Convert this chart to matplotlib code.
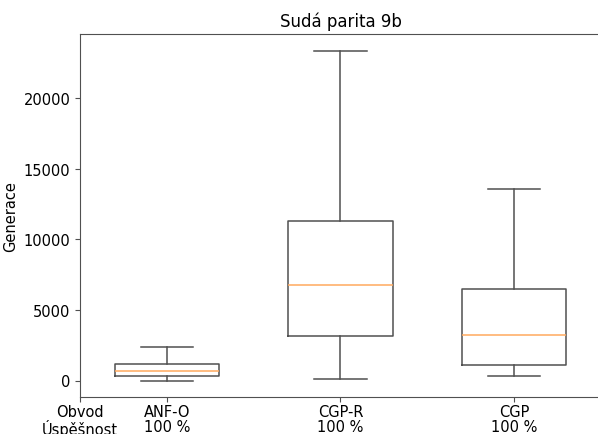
import matplotlib
matplotlib.use('Agg')
import matplotlib.pyplot as plt

# hodnoty
obvody = ['ANF-O', 'CGP-R', 'CGP']
uspesnost = ['100 %', '100 %', '100 %']
dolni = [0, 85, 340]
q1 = [320, 3180, 1120]
median = [675, 6780, 3250]
q3 = [1170, 11320, 6450]
horni = [2380, 23370, 13580]

stats = []
for i in range(len(obvody)):
    stats.append({'whislo': dolni[i], 'q1': q1[i], 'med': median[i],
                  'q3': q3[i], 'whishi': horni[i], 'fliers': []})

cara = dict(color='#505050', linewidth=1.1)

fig = plt.figure(figsize=(5.98, 4.35), dpi=100)
ax = fig.add_axes([80/598, 37/435, 521/598, 363/435])
ax.bxp(stats, positions=[1, 2, 3], widths=0.6,
       boxprops=cara, whiskerprops=cara, capprops=cara,
       medianprops=dict(color='#ffa95e', linewidth=1.1))

ax.set_xticks([0.5, 1, 2, 3])
ax.set_xticklabels(['Obvod\nÚspěšnost'] + [o + '\n' + u for o, u in zip(obvody, uspesnost)],
                   linespacing=1.0)
ax.set_xlim(0.5, 3.5)
ax.tick_params(labelsize=10.5, color='#505050')
ax.tick_params(axis='x', pad=1.5)
for s in ax.spines.values():
    s.set_color('#505050')
ax.set_ylabel('Generace', fontsize=10.5)
ax.set_title('Sudá parita 9b', fontsize=12)

fig.savefig('out.png', dpi=100)
